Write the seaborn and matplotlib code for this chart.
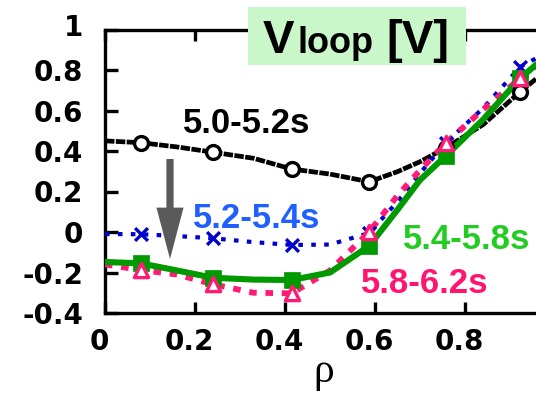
import matplotlib
matplotlib.use("Agg")
import matplotlib.pyplot as plt
import seaborn as sns
from matplotlib.patches import Rectangle
from matplotlib.transforms import ScaledTranslation

# Loop voltage at the measurement radii, one list per time window
rho_meas = [0.08, 0.24, 0.415, 0.587, 0.757, 0.923]
vloop_50_52 = [0.441, 0.394, 0.311, 0.248, 0.415, 0.693]
vloop_52_54 = [-0.011, -0.031, -0.064, -0.005, 0.44, 0.816]
vloop_54_58 = [-0.155, -0.226, -0.237, -0.069, 0.375, 0.76]
vloop_58_62 = [-0.188, -0.258, -0.303, 0.0, 0.438, 0.759]

# Smoothed radial profiles
rho_prof = [0.0, 0.08, 0.16, 0.24, 0.33, 0.415, 0.5, 0.587, 0.65, 0.70, 0.757, 0.84, 0.923, 0.96]
prof_50_52 = [0.45, 0.441, 0.42, 0.394, 0.364, 0.311, 0.286, 0.248, 0.298, 0.347, 0.415, 0.53, 0.693, 0.76]
prof_52_54 = [-0.01, -0.011, -0.02, -0.031, -0.05, -0.064, -0.062, -0.005, 0.15, 0.29, 0.44, 0.611, 0.816, 0.86]
prof_54_58 = [-0.148, -0.155, -0.19, -0.226, -0.235, -0.237, -0.20, -0.069, 0.11, 0.257, 0.375, 0.555, 0.76, 0.83]
prof_58_62 = [-0.16, -0.188, -0.21, -0.258, -0.30, -0.303, -0.19, 0.0, 0.18, 0.305, 0.438, 0.605, 0.759, 0.80]

window_labels = ["5.0-5.2s", "5.2-5.4s", "5.4-5.8s", "5.8-6.2s"]

x_ticks = [0, 0.2, 0.4, 0.6, 0.8]
x_ticklabels = ["0", "0.2", "0.4", "0.6", "0.8"]
y_ticks = [-0.4, -0.2, 0, 0.2, 0.4, 0.6, 0.8, 1.0]
y_ticklabels = ["-0.4", "-0.2", "0", "0.2", "0.4", "0.6", "0.8", "1"]

sns.set_theme(style="ticks")
plt.rcParams["font.family"] = ["Liberation Sans", "DejaVu Sans"]

W, H = 536, 396
fig = plt.figure(figsize=(W / 100, H / 100), dpi=100)
fig.patch.set_facecolor("white")

# axes in pixel layout (right edge runs past the canvas)
x0, x1, ytop, ybot = 105, 555, 29.5, 313
ax = fig.add_axes([x0 / W, 1 - ybot / H, (x1 - x0) / W, (ybot - ytop) / H])
ax.set_facecolor("white")

c_black = "black"
c_blue = "#0000cc"
c_green = "#009a00"
c_pink = "#ff1a75"

sns.lineplot(x=rho_prof, y=prof_50_52, ax=ax, color=c_black, linewidth=3.4,
             sort=False, estimator=None, zorder=2)
ax.lines[-1].set_linestyle((0, (2.0, 0.3)))
sns.lineplot(x=rho_prof, y=prof_52_54, ax=ax, color=c_blue, linewidth=3.0,
             sort=False, estimator=None, zorder=3)
ax.lines[-1].set_linestyle((0, (1.1, 2.0)))
sns.lineplot(x=rho_prof, y=prof_58_62, ax=ax, color=c_pink, linewidth=4.2,
             sort=False, estimator=None, zorder=4)
ax.lines[-1].set_linestyle((0, (1.3, 1.5)))
sns.lineplot(x=rho_prof, y=prof_54_58, ax=ax, color=c_green, linewidth=4.4,
             sort=False, estimator=None, zorder=5)
ax.lines[-1].set_linestyle("-")

sns.scatterplot(x=rho_meas, y=vloop_50_52, ax=ax, marker="o", s=100,
                facecolor="white", edgecolor=c_black, linewidth=2.4, zorder=6)
sns.scatterplot(x=rho_meas, y=vloop_52_54, ax=ax, marker="x", s=85,
                color=c_blue, linewidth=2.4, zorder=6)
sns.scatterplot(x=rho_meas, y=vloop_54_58, ax=ax, marker="s", s=130,
                color=c_green, edgecolor=c_green, linewidth=0.5, zorder=7)
sns.scatterplot(x=rho_meas, y=vloop_58_62, ax=ax, marker="^", s=105,
                facecolor="white", edgecolor=c_pink, linewidth=2.4, zorder=8)

ax.set_xlim(0, 1)
ax.set_ylim(-0.4, 1)
ax.set_xticks(x_ticks)
ax.set_xticklabels(x_ticklabels)
ax.set_yticks(y_ticks)
ax.set_yticklabels(y_ticklabels)

for sp in ax.spines.values():
    sp.set_linewidth(2.4)
    sp.set_color("black")

ax.tick_params(axis="both", direction="in", width=2.4, color="black")
ax.tick_params(axis="y", length=9.5, pad=15.5, left=True, right=True)
ax.tick_params(axis="x", length=8, pad=11, top=True, bottom=True)
for lab in ax.get_xticklabels() + ax.get_yticklabels():
    lab.set_fontfamily("DejaVu Sans")
    lab.set_fontweight("bold")
    lab.set_fontsize(20)
    lab.set_color("black")
shift = ScaledTranslation(-6 / 100, 0, fig.dpi_scale_trans)
for lab in ax.get_xticklabels():
    lab.set_transform(lab.get_transform() + shift)
ytop_lab = ax.get_yticklabels()[-1]
ytop_lab.set_transform(ytop_lab.get_transform() + ScaledTranslation(0, 4 / 100, fig.dpi_scale_trans))

ax.set_xlabel("ρ", fontfamily="Liberation Serif", fontsize=30, color="black")
ax.xaxis.set_label_coords((324 - x0) / (x1 - x0), -0.14)
ax.grid(False)


def px_to_data(px, py):
    return (px - x0) / 450.0, (232 - py) / 202.5


label_specs = [
    (window_labels[0], 183, 133, "black"),
    (window_labels[1], 193, 228, "#1f5fff"),
    (window_labels[2], 403, 249, "#22cc22"),
    (window_labels[3], 361, 293, "#ff1470"),
]
for text, px, py, col in label_specs:
    tx, ty = px_to_data(px, py)
    ax.text(tx, ty, text, color=col, fontsize=25, fontweight="bold",
            ha="left", va="baseline", zorder=10)

# downward arrow
ax_x, ax_y0 = px_to_data(170, 159)
_, ax_y1 = px_to_data(170, 259)
ax.annotate("", xy=(ax_x, ax_y1), xytext=(ax_x, ax_y0),
            arrowprops=dict(arrowstyle="simple,head_length=3.7,head_width=1.95,tail_width=0.52",
                            mutation_scale=10, color="#5a5a5a", lw=0,
                            shrinkA=0, shrinkB=0), zorder=9)

# title box with mixed-size text
fig.add_artist(Rectangle((248 / W, 1 - 65 / H), (466 - 248) / W, (65 - 7) / H,
                         transform=fig.transFigure, facecolor="#c9f7c9",
                         edgecolor="none", zorder=5))
base_y = 1 - 53 / H
fig.text(263 / W, base_y, "V", fontsize=34, fontweight="bold", color="black",
         ha="left", va="baseline", zorder=6)
fig.text(297 / W, base_y, "loop", fontsize=26, fontweight="bold", color="black",
         ha="left", va="baseline", zorder=6)
fig.text(386 / W, base_y, "[V]", fontsize=34, fontweight="bold", color="black",
         ha="left", va="baseline", zorder=6)

fig.savefig("out.png", dpi=100)
